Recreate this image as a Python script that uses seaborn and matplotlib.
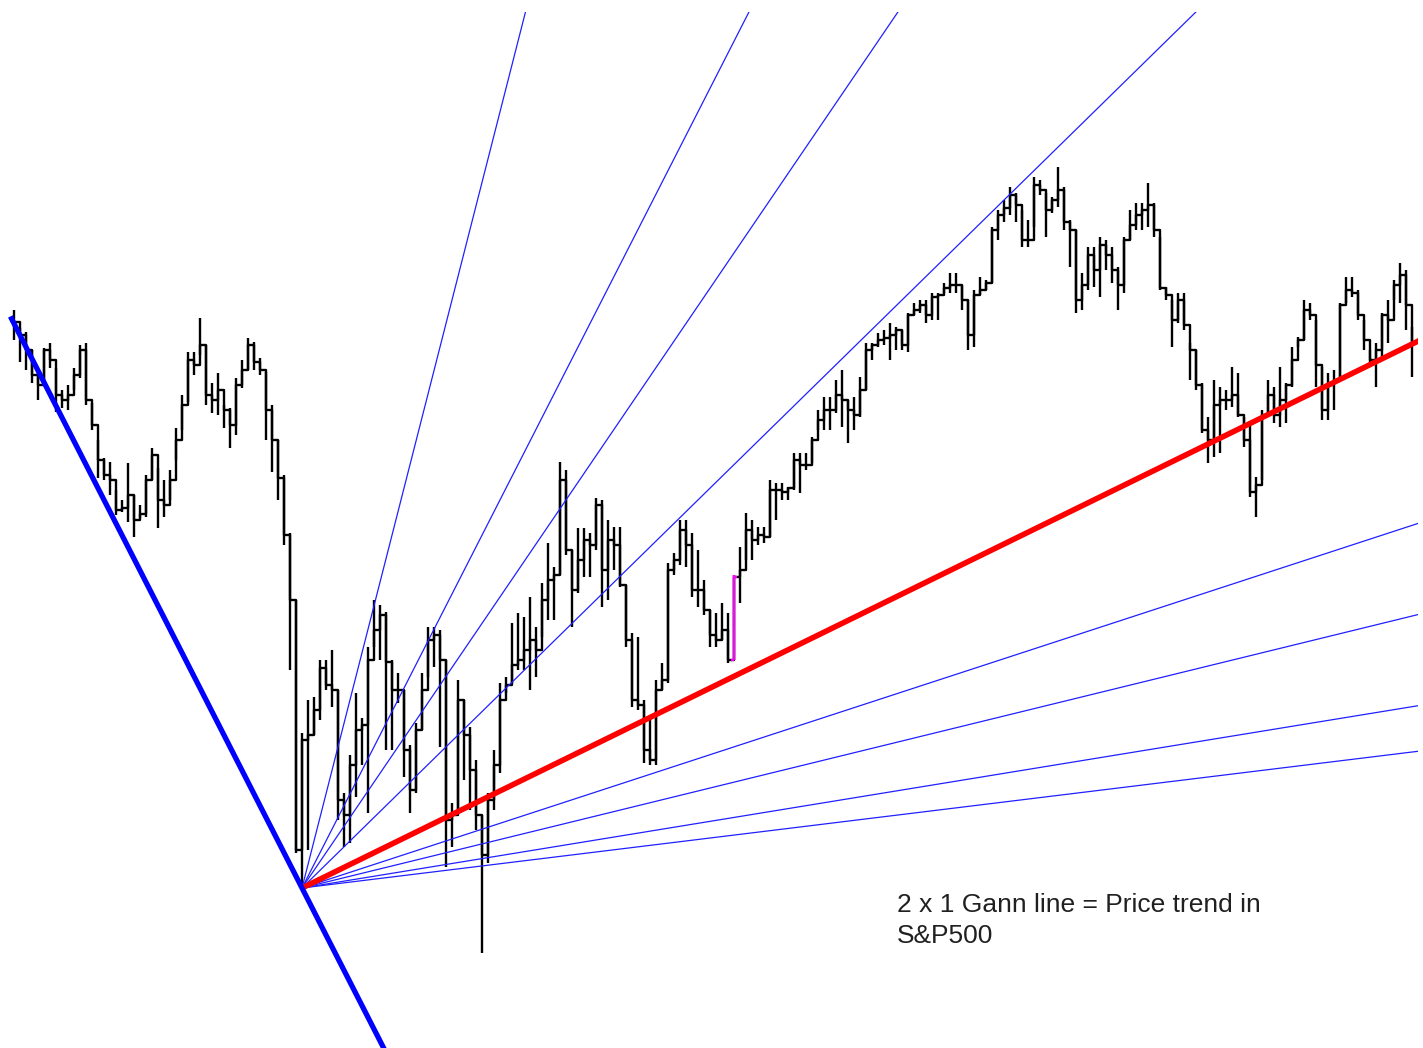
import numpy as np
import pandas as pd
import seaborn as sns
import matplotlib
matplotlib.use("Agg")
import matplotlib.pyplot as plt

# daily S&P500 bars (index points, arbitrary offset)
high = [738, 720, 716, 698, 676, 700, 705, 680, 658, 663, 680, 703, 705, 645, 608, 590, 586, 558, 548, 585,
        553, 543, 573, 600, 580, 568, 578, 620, 653, 696, 696, 730, 703, 665, 675, 643, 640, 670, 688, 710,
        706, 690, 676, 643, 608, 573, 515, 448, 315, 348, 351, 388, 388, 398, 358, 255, 293, 355, 330, 401,
        448, 443, 436, 388, 375, 358, 303, 325, 375, 421, 421, 418, 388, 245, 368, 348, 321, 288, 233, 255,
        298, 365, 371, 425, 435, 431, 451, 421, 465, 505, 481, 586, 578, 498, 520, 520, 515, 550, 548, 528,
        521, 521, 463, 415, 411, 348, 331, 368, 385, 485, 495, 528, 528, 515, 498, 468, 438, 435, 445, 435,
        473, 501, 535, 528, 521, 521, 568, 565, 565, 561, 595, 595, 595, 611, 638, 651, 651, 668, 678, 648,
        651, 671, 705, 705, 715, 718, 725, 721, 718, 735, 745, 748, 748, 755, 755, 765, 775, 775, 763, 748,
        758, 771, 768, 821, 838, 848, 861, 855, 838, 828, 871, 868, 855, 851, 881, 861, 828, 818, 775, 801,
        801, 811, 808, 801, 781, 811, 838, 845, 845, 865, 845, 811, 761, 748, 755, 755, 705, 698, 665, 631,
        668, 661, 658, 681, 675, 631, 625, 571, 638, 668, 661, 681, 665, 701, 711, 748, 745, 728, 681, 675,
        678, 745, 771, 771, 758, 728, 698, 705, 735, 748, 768, 785, 778, 721]
low = [708, 686, 678, 665, 648, 666, 680, 636, 640, 638, 658, 670, 643, 618, 570, 568, 553, 533, 536, 526,
       511, 530, 531, 568, 520, 531, 548, 588, 618, 646, 673, 693, 643, 635, 633, 620, 600, 613, 660, 678,
       678, 673, 608, 576, 548, 503, 378, 195, 160, 198, 313, 328, 358, 341, 228, 201, 205, 251, 283, 235,
       401, 388, 298, 298, 345, 271, 235, 255, 318, 371, 381, 301, 181, 201, 235, 268, 238, 218, 95, 185,
       238, 275, 355, 365, 378, 378, 358, 371, 411, 428, 428, 473, 493, 421, 455, 471, 471, 498, 441, 448,
       478, 461, 401, 341, 338, 285, 283, 283, 358, 365, 473, 483, 481, 451, 441, 433, 401, 401, 408, 385,
       388, 445, 488, 488, 503, 505, 511, 528, 548, 548, 558, 555, 578, 585, 618, 618, 618, 635, 621, 605,
       618, 631, 658, 688, 701, 703, 688, 698, 698, 696, 733, 735, 725, 728, 728, 755, 755, 755, 738, 698,
       701, 753, 758, 765, 808, 826, 833, 826, 801, 801, 821, 853, 811, 835, 841, 818, 781, 735, 738, 758,
       761, 751, 778, 765, 738, 755, 808, 818, 818, 821, 811, 758, 748, 701, 725, 718, 668, 658, 615, 585,
       591, 595, 638, 641, 631, 601, 551, 531, 568, 635, 625, 621, 625, 661, 701, 708, 728, 661, 628, 628,
       638, 668, 745, 751, 728, 698, 681, 661, 688, 705, 748, 745, 718, 671]
close = [726, 713, 698, 673, 663, 698, 688, 653, 648, 653, 673, 698, 648, 623, 588, 573, 568, 538, 540, 553,
         528, 534, 568, 593, 548, 543, 568, 608, 643, 688, 683, 703, 653, 648, 658, 638, 623, 663, 678, 703,
         686, 678, 638, 608, 570, 513, 448, 198, 308, 313, 338, 380, 363, 358, 248, 233, 283, 318, 323, 388,
         418, 433, 386, 358, 358, 298, 258, 318, 358, 408, 413, 388, 228, 233, 348, 313, 278, 233, 193, 248,
         283, 348, 363, 383, 388, 398, 408, 398, 448, 468, 473, 568, 498, 458, 488, 508, 503, 543, 478, 508,
         503, 463, 408, 348, 343, 298, 288, 358, 368, 478, 488, 518, 503, 458, 458, 438, 413, 408, 418, 388,
         471, 478, 518, 508, 513, 511, 558, 558, 556, 560, 588, 583, 583, 608, 628, 638, 638, 653, 648, 638,
         633, 658, 698, 703, 708, 710, 713, 718, 703, 733, 738, 743, 733, 751, 753, 760, 763, 763, 748, 713,
         753, 758, 765, 818, 833, 840, 853, 843, 808, 808, 863, 858, 838, 848, 858, 826, 818, 748, 763, 793,
         778, 803, 793, 778, 763, 808, 823, 833, 838, 843, 818, 760, 753, 728, 748, 723, 698, 663, 618, 608,
         643, 648, 648, 653, 633, 608, 556, 563, 633, 653, 633, 648, 663, 688, 708, 738, 733, 683, 638, 663,
         668, 743, 758, 755, 733, 708, 688, 698, 733, 728, 763, 773, 743, 703]

highlight_bar = 120                      # bar shown in magenta
pivot_bar = 48                           # swing low the fan is drawn from
gann_unit = 5.88                         # points per bar for a 1 x 1 angle
fan_ratios = [4, 2, 1.5, 1, 1/3, 1/4, 1/6, 1/8]
trend_ratio = 0.5                        # the 2 x 1 line (red)
down_ratio = -2

df = pd.DataFrame({"bar": np.arange(len(close)), "high": high, "low": low, "close": close})
piv = pivot_bar
piv_price = df.loc[piv, "low"]

sns.set_style("white")
fig = plt.figure(figsize=(14.23, 10.48), dpi=100)
ax = fig.add_axes([0, 0, 1418 / 1423, 1036 / 1048])

# price bars: high-low sticks joined by the close steps
ax.vlines(df["bar"], df["low"], df["high"], color="black", lw=1.7)
sns.lineplot(data=df, x="bar", y="close", drawstyle="steps-post", color="black", lw=1.7, ax=ax)
hb = df.loc[highlight_bar]
ax.vlines(hb["bar"], hb["low"], hb["high"], color="#ff00ff", lw=1.7, zorder=3)
ax.hlines(df.loc[highlight_bar - 1, "close"], hb["bar"] - 0.5, hb["bar"], color="#ff00ff", lw=1.7, zorder=3)
ax.hlines(hb["close"], hb["bar"], hb["bar"] + 0.5, color="#ff00ff", lw=1.7, zorder=3)

# Gann fan from the low
x_end = len(close) + 2
for r in fan_ratios:
    xs = np.array([piv, x_end])
    ax.plot(xs, piv_price + r * gann_unit * (xs - piv), color="#2020ff", lw=0.9, zorder=4)
xs = np.array([piv, x_end])
ax.plot(xs, piv_price + trend_ratio * gann_unit * (xs - piv), color="#ff0000", lw=4, zorder=5,
        solid_capstyle="butt")
xs = np.array([-0.6, piv + 40])
ax.plot(xs, piv_price + down_ratio * gann_unit * (xs - piv), color="#0000ff", lw=3.8, zorder=5,
        solid_capstyle="butt")

ax.set_xlim(-14 / 6, 1404 / 6)
ax.set_ylim(0, 1036)
ax.set_axis_off()

fig.text(897 / 1423, 1 - 893 / 1048, "2 x 1 Gann line = Price trend in\nS&P500",
         fontsize=19, family="Liberation Sans", color="#202020", va="top", ha="left",
         linespacing=1.38)

plt.savefig("out.png", dpi=100)
